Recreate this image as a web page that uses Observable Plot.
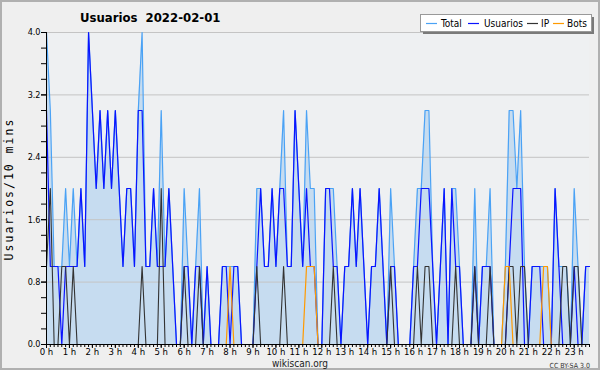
<!DOCTYPE html>
<html><head><meta charset="utf-8">
<script src="https://cdn.jsdelivr.net/npm/d3@7"></script>
<script src="https://cdn.jsdelivr.net/npm/@observablehq/plot@0.6"></script>
<style>
html,body{margin:0;padding:0;background:#efefef;}
#chart{width:600px;height:370px;overflow:hidden;}
svg{display:block;}
</style></head><body><div id="chart"></div>
<script>
// values every 10 minutes, 00:00 .. 23:40
const usuarios = [3,1,1,1,0,1,1,1,1,2, 1,4,3,2,3,2,3,2,3,2, 1,2,2,1,3,3,1,1,2,1,
  1,1,2,1,0,0,1,1,0,1, 1,0,1,0,0,0,1,1,0,1, 1,0,0,0,0,1,2,1,1,2, 1,2,2,1,1,3,2,1,2,1,
  1,0,0,2,2,1,1,0,1,1, 2,1,2,1,0,1,1,2,1,0, 1,1,0,0,0,0,1,1,2,2, 2,1,0,1,2,0,2,1,1,0,
  0,0,1,0,1,1,1,0,0,0, 0,1,2,2,2,0,0,1,1,1, 0,0,0,2,1,0,0,0,1,0, 0,1,1];
const ip = [1,2,0,0,1,1,0,1,0,0, 0,0,0,0,0,0,0,0,0,0, 0,0,0,0,0,1,0,0,0,0,
  2,0,0,0,0,0,1,0,0,0, 1,0,0,0,0,0,0,0,0,0, 0,0,0,0,0,1,0,0,0,0, 0,0,1,0,0,0,0,0,0,0,
  0,0,0,0,0,1,0,0,0,0, 0,0,0,0,0,0,0,0,0,0, 1,0,0,0,0,0,0,1,0,1, 1,0,0,0,0,0,0,1,0,0,
  0,0,1,0,0,0,1,0,0,0, 0,1,1,0,1,1,0,0,0,0, 0,0,0,0,0,1,1,0,1,1, 0,0,0];
const bots = [0,0,0,0,0,0,0,0,0,0, 0,0,0,0,0,0,0,0,0,0, 0,0,0,0,0,0,0,0,0,0,
  0,0,0,0,0,0,0,0,0,0, 0,0,0,0,0,0,0,0,1,0, 0,0,0,0,0,0,0,0,0,0, 0,0,0,0,0,0,0,0,1,1,
  1,0,0,0,0,0,0,0,0,0, 0,0,0,0,0,0,0,0,0,0, 0,0,0,0,0,0,0,0,0,0, 0,0,0,0,0,0,0,0,0,0,
  0,0,0,0,0,0,0,0,0,0, 1,1,0,0,0,0,0,0,0,0, 1,1,0,0,0,0,0,0,0,0, 0,0,0];
const total = [4,3,1,1,1,2,1,2,1,2, 1,4,3,2,3,2,3,2,3,2, 1,2,2,1,3,4,1,1,2,1,
  3,1,2,1,0,0,2,1,0,1, 2,0,1,0,0,0,1,1,1,1, 1,0,0,0,0,2,2,1,1,2, 1,2,3,1,1,3,2,1,3,2,
  2,0,0,2,2,2,1,0,1,1, 2,1,2,1,0,1,1,2,1,0, 2,1,0,0,0,0,1,2,2,3, 3,1,0,1,2,0,2,2,1,0,
  0,0,2,0,1,1,2,0,0,0, 1,3,3,2,3,1,0,1,1,1, 1,1,0,2,1,1,1,0,2,1, 0,1,1];
const hourLabels = d3.range(24).map(h => `${h} h`);
const yTicks = [0, 0.8, 1.6, 2.4, 3.2, 4.0];
const seriesNames = ["Total", "Usuarios", "IP", "Bots"];
const seriesColors = ["#4aa2f5", "#0a14ff", "#333333", "#ff9a00"];
const titleText = "Usuarios  2022-02-01";
const yLabel = "Usuarios/10 mins";

const rows = total.map((t, i) => ({k: i, total: t, usuarios: usuarios[i], ip: ip[i], bots: bots[i]}));
const font = "'DejaVu Sans Condensed','DejaVu Sans',sans-serif";

const plot = Plot.plot({
  width: 600, height: 370,
  marginLeft: 46, marginRight: 11, marginTop: 32, marginBottom: 26,
  style: {background: "transparent", fontFamily: font, fontSize: "9px", color: "#000", fontStretch: "condensed"},
  x: {domain: [0, total.length - 1], axis: null, label: null},
  y: {domain: [0, 4], axis: null, label: null},
  marks: [
    Plot.frame({fill: "#eef0f2"}),
    Plot.areaY(rows, {x: "k", y: "total", fill: "#c6dcf0"}),
    Plot.gridY(yTicks.slice(1), {stroke: "#c4c4c4", strokeOpacity: 1}),
    Plot.lineY(rows, {x: "k", y: "total", stroke: seriesColors[0], strokeWidth: 1.2}),
    Plot.lineY(rows, {x: "k", y: "usuarios", stroke: seriesColors[1], strokeWidth: 1.2}),
    Plot.lineY(rows, {x: "k", y: "ip", stroke: seriesColors[2], strokeWidth: 1.1}),
    Plot.lineY(rows, {x: "k", y: "bots", stroke: seriesColors[3], strokeWidth: 1.2}),
    Plot.axisY(d3.range(0, 21).map(i => i * 0.2), {tickFormat: () => "", tickSize: 5, stroke: "#000", label: null}),
    Plot.axisY(yTicks, {tickFormat: d => d.toFixed(1), tickSize: 5, tickPadding: 1, fontSize: 9, stroke: "#000", label: null}),
    Plot.ruleX([0], {stroke: "#000"}),
    Plot.ruleY([0], {stroke: "#000"}),
    Plot.axisX(d3.range(0, total.length), {tickFormat: () => "", tickSize: 3, stroke: "#000", label: null}),
    Plot.axisX(d3.range(0, 24).map(h => h * 6), {tickFormat: d => hourLabels[Math.round(d / 6)], tickSize: 4, tickPadding: 0, fontSize: 9.5, stroke: "#000", label: null})
  ]
});

const svg = d3.select(plot);
svg.style("background", "#efefef");
svg.append("rect").attr("x", 1).attr("y", 1).attr("width", 598).attr("height", 368)
  .attr("fill", "none").attr("stroke", "#b0b0b0").attr("stroke-width", 2);
svg.append("text").attr("x", 80).attr("y", 22).attr("text-anchor", "start").text(titleText)
  .style("font-family", "'DejaVu Sans',sans-serif").style("font-weight", "bold").style("font-size", "13px").style("white-space", "pre").attr("fill", "#000");
svg.append("text").attr("transform", "translate(13,189) rotate(-90)").attr("text-anchor", "middle").text(yLabel)
  .style("font-family", "'DejaVu Sans Mono',monospace").style("font-size", "11.5px").style("letter-spacing", "2px").attr("fill", "#000");
svg.append("text").attr("x", 300).attr("y", 367).attr("text-anchor", "middle").text("wikiscan.org")
  .style("font-family", font).style("font-stretch", "condensed").style("font-size", "10px").attr("fill", "#222");
svg.append("text").attr("x", 590).attr("y", 368).attr("text-anchor", "end").text("CC BY-SA 3.0")
  .style("font-family", font).style("font-stretch", "condensed").style("font-size", "7px").attr("fill", "#333");

// legend
const lg = svg.append("g").attr("text-anchor", "start");
lg.append("rect").attr("x", 423).attr("y", 17).attr("width", 171).attr("height", 17).attr("fill", "#7a7a7a");
lg.append("rect").attr("x", 420.5).attr("y", 14.5).attr("width", 171).attr("height", 17).attr("fill", "#fff").attr("stroke", "#999");
const lineX = [426, 468, 527, 553];
const textX = [441, 484, 541, 567];
seriesNames.forEach((n, i) => {
  lg.append("line").attr("x1", lineX[i]).attr("x2", lineX[i] + 11).attr("y1", 23.5).attr("y2", 23.5).attr("stroke", seriesColors[i]).attr("stroke-width", 1.2);
  lg.append("text").attr("x", textX[i]).attr("y", 27).attr("text-anchor", "start").text(n)
    .style("font-family", font).style("font-stretch", "condensed").style("font-size", "10px").attr("fill", "#000");
});

document.getElementById("chart").appendChild(plot);
</script>
</body></html>
